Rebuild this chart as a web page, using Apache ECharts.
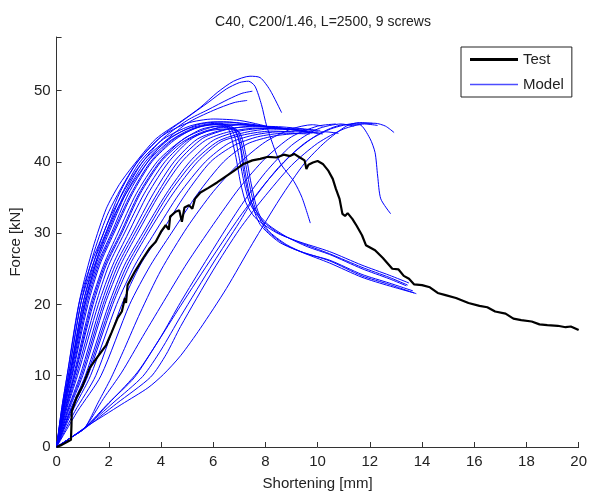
<!DOCTYPE html>
<html><head><meta charset="utf-8">
<script src="https://cdn.jsdelivr.net/npm/echarts@6/dist/echarts.min.js"></script>
<style>html,body{margin:0;padding:0;background:#fff}#c{width:590px;height:496px}</style>
</head><body><div id="c"></div>
<script>
const titleText = 'C40, C200/1.46, L=2500, 9 screws';
const xAxisName = 'Shortening [mm]';
const yAxisName = 'Force [kN]';
const xTicks = [0, 2, 4, 6, 8, 10, 12, 14, 16, 18, 20];
const yTicks = [0, 10, 20, 30, 40, 50];

const testCurve = [[0,0],[0.2,0.3],[0.45,0.8],[0.55,1.0],[0.57,3],[0.58,5.0],[0.76,6.9],[1.0,8.6],[1.27,11.1],[1.5,12.3],[1.9,14.3],[2.1,16],[2.34,18.1],[2.5,19],[2.62,20.9],[2.66,20.2],[2.72,22.7],[3.0,24.6],[3.3,26.4],[3.55,27.8],[3.8,28.8],[4.0,30.2],[4.18,31.1],[4.3,30.5],[4.35,32.3],[4.56,33],[4.7,33.2],[4.8,31.6],[4.9,33.6],[5.07,33.9],[5.2,33.4],[5.3,34.8],[5.51,35.7],[5.8,36.3],[6.15,37.1],[6.5,38],[6.78,38.7],[7.16,39.7],[7.5,40.2],[7.8,40.4],[8.1,40.7],[8.43,40.6],[8.7,41.0],[8.94,40.8],[9.1,41.1],[9.32,40.6],[9.5,40.2],[9.57,39.0],[9.65,39.6],[9.82,39.9],[10.0,40.1],[10.2,39.7],[10.4,38.8],[10.58,37.6],[10.7,36.2],[10.84,34.8],[10.95,32.7],[11.05,32.4],[11.15,32.8],[11.33,32],[11.5,31],[11.7,29.7],[11.85,28.3],[12.2,27.6],[12.5,26.5],[12.86,25.0],[13.1,24.9],[13.3,24.0],[13.5,23.6],[13.7,22.8],[14.0,22.7],[14.3,22.4],[14.6,21.6],[14.9,21.3],[15.3,20.9],[15.78,20.2],[16.2,19.8],[16.5,19.6],[16.8,19.0],[17.2,18.7],[17.5,18.0],[17.8,17.8],[18.2,17.6],[18.5,17.2],[18.8,17.1],[19.2,17.0],[19.5,16.8],[19.7,16.9],[20,16.4]];

const modelB1 = [[0,0],[0.2,5.5],[0.45,11],[0.9,20.9],[1.4,28],[1.9,33.4],[2.4,36.8],[2.92,39.4],[3.8,43.2],[4.82,45.8],[5.5,47.6],[6.15,49.7],[6.78,51.3],[7.41,52.0],[7.8,51.8],[8.17,50.1],[8.62,46.9]];
const modelB2 = [[0,0],[0.22,5.5],[0.5,11],[0.95,20.5],[1.45,27.5],[2,33],[3,39.5],[4,43.5],[5,46.2],[5.8,48.3],[6.5,50.2],[7.0,51.1],[7.35,51.3],[7.6,50.6],[7.85,48],[8.05,45],[8.56,39.9],[9.1,37.2],[9.4,35],[9.72,31.4]];
const modelB3 = [[0,0],[0.25,5.5],[0.55,11],[1,20],[1.5,26.8],[2,31.8],[3,38.5],[4,43],[5,45.8],[5.8,47.3],[6.6,48.8],[7.1,49.6],[7.5,49.9]];
const modelB4 = [[0,0],[0.25,5.2],[0.55,10.5],[1.05,19.5],[1.6,27],[2.2,32.5],[3,37.5],[4,42.3],[5,45.4],[6,47.2],[6.8,48.3],[7.3,48.6]];

const modelA1 = [[0,0],[0.22,5],[0.5,10],[1.0,20],[1.45,25.5],[1.95,30],[2.6,35.5],[3.3,40],[4.2,43],[5,44.6],[5.8,45.3],[6.3,45.4],[6.6,44.5],[6.85,41],[7.05,37],[7.25,34.3],[7.6,32.2],[8.4,30.1],[9.2,28.9],[10.46,27.4],[11.7,25.5],[12.74,24.1],[13.5,23.0]];
const modelA2 = [[0,0],[0.25,5],[0.55,10],[1.1,20],[1.55,25.5],[2.1,30],[2.75,35.5],[3.5,40],[4.3,42.8],[5.1,44.5],[5.9,45.2],[6.5,45.2],[6.8,43.8],[7.0,40.5],[7.2,36.8],[7.4,34.2],[7.8,32.0],[8.5,30.0],[9.3,28.7],[10.46,27.1],[11.7,25.2],[12.74,23.8],[13.45,22.7]];
const modelA3 = [[0,0],[0.27,5],[0.6,10],[1.2,20],[1.65,25.5],[2.2,30],[2.9,35.5],[3.65,40],[4.5,43],[5.3,44.7],[6.1,45.3],[6.7,45],[7.0,42.8],[7.15,39],[7.35,35.5],[7.6,33.3],[8.1,31.2],[8.8,29.5],[9.6,28.1],[10.46,27.0],[11.7,25.0],[12.74,23.6],[13.4,22.6]];
const modelA4 = [[0,0],[0.3,5],[0.65,10],[1.3,20],[1.8,25.5],[2.35,30],[3.05,35.5],[3.85,40],[4.6,42.5],[5.5,44.5],[6.2,45],[6.8,44.7],[7.05,42],[7.25,38],[7.45,34.5],[7.8,31.2],[8.5,28.8],[9.2,27.6],[10.46,26.1],[11.7,24.0],[12.74,22.8],[13.78,21.5]];
const modelA5 = [[0,0],[0.32,5],[0.7,10],[1.4,20],[1.9,25.5],[2.5,30],[3.2,35.5],[4.0,40],[4.8,42.7],[5.6,44.2],[6.4,44.8],[6.9,44.5],[7.15,41.5],[7.35,37.5],[7.6,33.6],[8.0,30.6],[8.7,28.5],[9.4,27.3],[10.46,25.8],[11.7,23.8],[12.74,22.6],[13.7,21.6]];
const modelA6 = [[0,0],[0.34,5],[0.75,10],[1.5,20],[2.0,25.5],[2.6,30],[3.35,35.5],[4.15,40],[5,43],[5.8,44.3],[6.5,44.6],[7.0,44.2],[7.25,41],[7.45,37],[7.7,33.2],[8.1,30.4],[8.8,28.4],[9.5,27.2],[10.46,26.2],[11.7,24.2],[12.74,23.0],[13.65,21.9]];
const modelA7 = [[0,0],[0.18,5],[0.4,10],[0.85,20],[1.3,25.5],[1.8,30],[2.4,35.5],[3.1,40],[4,43.5],[5,45.4],[6,46],[7,45.8],[7.8,45.2],[8.4,44.6]];
const modelA8 = [[0,0],[0.22,5],[0.5,10],[1.05,20],[1.5,25.5],[2.0,30],[2.65,35.5],[3.4,40],[4.4,43.4],[5.4,45.2],[6.4,45.6],[7.4,45.3],[8.3,44.8],[8.9,44.6]];
const modelA9 = [[0,0],[0.36,5],[0.8,10],[1.6,20],[2.15,25.5],[2.75,30],[3.5,35.5],[4.3,40],[5.2,43.3],[6.2,44.8],[7.2,45.2],[8.2,44.9],[9.2,44.5],[9.8,44.2]];
const modelA10 = [[0,0],[0.4,5],[0.9,10],[1.7,20],[2.25,25.5],[2.9,30],[3.7,35.5],[4.5,40],[5.4,43.2],[6.4,44.5],[7.4,44.9],[8.4,44.8],[9.4,44.3],[10,44]];
const modelA11 = [[0,0],[0.45,5],[1.0,10],[1.85,20],[2.45,25.5],[3.1,30],[3.95,35.5],[4.8,40],[5.7,43],[6.6,44.2],[7.6,44.7],[8.6,44.6],[9.6,44.3]];
const modelA12 = [[0,0],[0.5,5],[1.1,10],[2.0,20],[2.6,25.5],[3.3,30],[4.2,35.5],[5.1,40],[6.0,43],[7.0,44.3],[8.0,44.7],[9.0,44.5],[9.8,44]];
const modelA13 = [[0,0],[0.55,5],[1.2,10],[2.15,20],[2.8,25.5],[3.5,30],[4.45,35.5],[5.4,40],[6.3,42.8],[7.2,43.8],[8.2,44.3],[9.1,44.2]];
const modelA14 = [[0,0],[0.6,5],[1.3,10],[2.3,20],[3.0,25.5],[3.75,30],[4.7,35.5],[5.7,40],[6.6,42.6],[7.5,43.7],[8.5,44.2],[9.5,44.2],[10.2,43.9]];
const modelA15 = [[0,0],[0.7,5],[1.5,10],[2.5,20],[3.2,25.5],[4.0,30],[4.95,35.5],[5.9,40],[6.8,42.3],[7.7,43.5],[8.7,44.0],[9.7,43.9]];
const modelA16 = [[0,0],[0.8,5],[1.7,10],[2.8,20],[3.6,25.5],[4.4,30],[5.4,35.5],[6.4,40],[7.3,42.5],[8.3,43.6],[9.3,44],[10.3,44.2],[10.8,44]];
const modelA17 = [[0,0],[0.2,5],[0.45,10],[0.92,20],[1.38,25.5],[1.88,30],[2.5,35.5],[3.2,40],[4.1,43.2],[5.1,45],[6.0,45.6],[6.8,45.5],[7.6,45]];
const modelA18 = [[0,0],[0.26,5],[0.58,10],[1.15,20],[1.6,25.5],[2.15,30],[2.85,35.5],[3.6,40],[4.5,43.2],[5.5,44.9],[6.5,45.3],[7.5,45.1],[8.5,44.7],[9.3,44.5]];
const modelA19 = [[0,0],[0.3,5],[0.68,10],[1.35,20],[1.85,25.5],[2.45,30],[3.15,35.5],[3.95,40],[4.9,43.3],[5.9,44.8],[6.9,45.2],[7.9,45],[8.8,44.6]];
const modelA20 = [[0,0],[0.42,5],[0.95,10],[1.78,20],[2.35,25.5],[3.0,30],[3.85,35.5],[4.65,40],[5.6,43.3],[6.6,44.6],[7.6,45],[8.6,44.9],[9.5,44.6],[10.1,44.4]];
const modelA21 = [[0,0],[0.52,5],[1.15,10],[2.08,20],[2.7,25.5],[3.4,30],[4.3,35.5],[5.25,40],[6.2,42.9],[7.2,44.1],[8.2,44.6],[9.2,44.6],[10.0,44.3]];

const modelC1 = [[0,0],[0.5,1.2],[1.08,2.7],[1.6,6.3],[2.09,9.7],[2.6,13.8],[3.2,18.8],[4,24.8],[5,30.8],[6,35.8],[7,39.8],[8,42.8],[9,44.6],[9.8,45.2],[10.2,45]];
const modelC2 = [[0,0],[0.5,1.2],[1.08,2.7],[2,6.2],[2.97,9.7],[3.8,14.3],[4.75,19.8],[6,26.8],[7,32.2],[8,37],[9,41],[10,43.8],[11,45.2],[11.6,45.2],[12.0,43.3],[12.2,41.3],[12.3,38],[12.42,34.8],[12.8,32.7]];
const modelC3 = [[0,0],[0.5,1.2],[1.08,2.7],[2.2,6.3],[3.3,9.9],[4.0,13.6],[4.75,18.3],[6,25.8],[7,31.5],[7.5,34.5],[8.5,39.2],[9.5,42.6],[10.5,44.6],[11.5,45.4],[12.2,45.4],[12.6,45],[12.93,44.1]];
const modelC4 = [[0,0],[0.5,1.2],[1.08,2.6],[2.3,6.1],[3.6,9.8],[4.2,13],[4.75,16.9],[6,24.8],[7,30.5],[7.9,34.8],[9,39.5],[10,42.6],[11,44.6],[11.8,45.3],[12.3,45.1]];
const modelC5 = [[0,0],[0.5,1.2],[1.08,2.7],[2.5,6],[3.5,8.3],[4.1,10.2],[4.75,12.8],[5.5,16.6],[6.5,22.2],[7.5,28.5],[8.55,34.8],[9.5,39.8],[10.3,42.8],[11.1,45],[11.6,45.5],[12.1,45.4]];
const modelC6 = [[0,0],[0.5,1.2],[1.08,2.7],[1.8,6.8],[2.5,10.5],[3.3,15.5],[4.2,21],[5,25.8],[6,31.2],[7,36.3],[8,40.5],[9,43.5],[10,45],[10.7,45.3]];
const modelC7 = [[0,0],[0.5,1.2],[1.08,2.6],[2.1,6.5],[3.1,10.5],[4,15.5],[4.75,20.3],[5.7,26],[7,33.5],[8,38.5],[9,42.3],[10,44.6],[10.9,45.3],[11.4,45]];

const modelCurves = [modelB1, modelB2, modelB3, modelB4,
  modelA1, modelA2, modelA3, modelA4, modelA5, modelA6, modelA7, modelA8,
  modelA9, modelA10, modelA11, modelA12, modelA13, modelA14, modelA15, modelA16,
  modelA17, modelA18, modelA19, modelA20, modelA21,
  modelC1, modelC2, modelC3, modelC4, modelC5, modelC6, modelC7];

const chart = echarts.init(document.getElementById('c'), null, {renderer: 'canvas'});
const FONT = '"Liberation Sans", Arial, sans-serif';
const series = [];
modelCurves.forEach(function (d) {
  series.push({
    name: 'Model', type: 'line', data: d, symbol: 'none', showSymbol: false,
    smooth: 0.25, silent: true, z: 2,
    lineStyle: {color: '#0000ff', width: 1}, itemStyle: {color: '#0000ff'}
  });
});
series.push({
  name: 'Test', type: 'line', data: testCurve, symbol: 'none', showSymbol: false,
  silent: true, z: 3,
  lineStyle: {color: '#000000', width: 2.2}, itemStyle: {color: '#000000'}
});

chart.setOption({
  animation: false,
  backgroundColor: '#ffffff',
  title: {
    text: titleText, left: 318, top: 10, textAlign: 'center',
    textStyle: {fontFamily: FONT, fontSize: 14, fontWeight: 'normal', color: '#222'}
  },
  legend: {
    data: [
      {name: 'Test', icon: 'path://M0 0 H48 V3 H0 Z', itemStyle: {color: '#000000'}},
      {name: 'Model', icon: 'path://M0 0 H48 V1.3 H0 Z', itemStyle: {color: '#4d4dff'}}
    ],
    orient: 'vertical', left: 461, top: 47,
    padding: [5, 8, 5, 9], itemGap: 10, itemWidth: 48, itemHeight: 14,
    symbolKeepAspect: true,
    borderColor: '#222', borderWidth: 1, backgroundColor: '#fff',
    textStyle: {fontFamily: FONT, fontSize: 15, color: '#222'}
  },
  grid: {left: 55, right: 9, top: 37, bottom: 46.5},
  xAxis: {
    type: 'value', min: xTicks[0], max: xTicks[xTicks.length - 1], interval: 2,
    name: xAxisName, nameLocation: 'middle', nameGap: 29,
    nameTextStyle: {fontFamily: FONT, fontSize: 15, color: '#222'},
    axisLine: {show: true, lineStyle: {color: '#333', width: 1}},
    axisTick: {show: true, inside: true, length: 5, lineStyle: {color: '#333'}},
    axisLabel: {fontFamily: FONT, fontSize: 15, color: '#222', margin: 7},
    splitLine: {show: false}
  },
  yAxis: {
    type: 'value', min: yTicks[0], max: 57.5, interval: 10,
    name: yAxisName, nameLocation: 'middle', nameGap: 30,
    nameTextStyle: {fontFamily: FONT, fontSize: 15, color: '#222'},
    axisLine: {show: true, lineStyle: {color: '#333', width: 1}},
    axisTick: {show: true, inside: true, length: 5, lineStyle: {color: '#333'}},
    axisLabel: {fontFamily: FONT, fontSize: 15, color: '#222', margin: 6,
      formatter: function (v) { return yTicks.indexOf(v) >= 0 ? String(v) : ''; }},
    splitLine: {show: false}
  },
  series: series
});
</script>
</body></html>
